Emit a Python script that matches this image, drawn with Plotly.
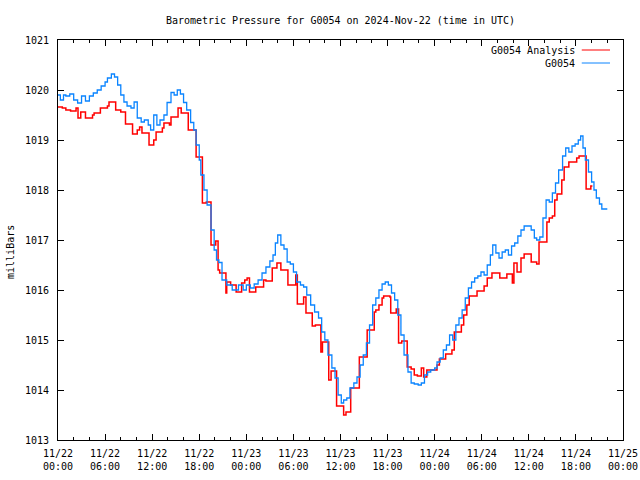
import pandas as pd
import plotly.graph_objects as go

# ---------------- data ----------------
START = "2024-11-22 00:00"

# G0054 observations: hours since 2024-11-22 00:00 UTC, pressure (mbar)
obs_hours = [
    0.0, 0.3, 0.7, 1.0, 1.5, 2.0, 2.5, 3.0, 3.5, 4.0, 4.5, 5.0, 5.5, 6.0, 6.3, 6.8,
    7.2, 7.6, 8.0, 8.4, 8.8, 9.3, 9.7, 10.1, 10.6, 11.0, 11.5, 11.8, 12.2, 12.6,
    13.0, 13.5, 13.9, 14.4, 14.8, 15.2, 15.6, 16.0, 16.4, 16.9, 17.3, 17.6, 18.0,
    18.2, 18.6, 19.0, 19.5, 19.9, 20.2, 20.5, 20.9, 21.5, 22.2, 23.0, 23.6, 24.0,
    24.5, 25.0, 25.5, 26.0, 26.5, 27.0, 27.4, 27.7, 28.0, 28.4, 28.8, 29.2, 29.6,
    30.0, 30.4, 30.9, 31.3, 31.7, 32.2, 32.7, 33.2, 33.6, 34.0, 34.4, 34.9, 35.3,
    35.7, 36.1, 36.4, 36.8, 37.2, 37.7, 38.1, 38.5, 38.9, 39.3, 39.7, 40.1, 40.5,
    40.9, 41.3, 41.7, 42.1, 42.5, 42.9, 43.3, 43.7, 44.1, 44.6, 45.0, 45.4, 45.9,
    46.3, 46.7, 47.1, 47.5, 48.0, 48.3, 48.7, 49.1, 49.5, 49.9, 50.3, 50.7, 51.1,
    51.5, 51.9, 52.3, 52.7, 53.1, 53.5, 53.9, 54.3, 54.7, 55.1, 55.4, 55.8, 56.2,
    56.6, 57.0, 57.4, 57.8, 58.2, 58.6, 59.0, 59.4, 59.9, 60.3, 60.7, 61.0, 61.4,
    61.8, 62.2, 62.6, 63.0, 63.4, 63.8, 64.3, 64.7, 65.1, 65.5, 65.9, 66.3, 66.6,
    66.9, 67.2, 67.6, 68.0, 68.3, 68.6, 69.0, 69.3, 70.0,
]
obs_pressure = [
    1019.90, 1019.80, 1019.90, 1019.88, 1019.92, 1019.80, 1019.74, 1019.88, 1019.78,
    1019.88, 1019.94, 1020.00, 1020.08, 1020.16, 1020.24, 1020.32, 1020.26, 1020.10,
    1019.90, 1019.76, 1019.68, 1019.64, 1019.76, 1019.44, 1019.36, 1019.40, 1019.30,
    1019.20, 1019.50, 1019.30, 1019.40, 1019.50, 1019.75, 1019.95, 1019.90, 1020.00,
    1019.92, 1019.75, 1019.60, 1019.35, 1019.20, 1018.90, 1018.60, 1018.30, 1018.00,
    1017.70, 1017.20, 1016.80, 1016.60, 1016.55, 1016.20, 1016.10, 1016.00, 1016.10,
    1016.00, 1016.10, 1016.04, 1016.12, 1016.20, 1016.34, 1016.46, 1016.58, 1016.70,
    1016.94, 1017.10, 1016.90, 1016.82, 1016.56, 1016.52, 1016.36, 1016.16, 1016.10,
    1016.06, 1015.90, 1015.70, 1015.56, 1015.44, 1015.16, 1015.00, 1014.70, 1014.44,
    1014.24, 1013.90, 1013.74, 1013.80, 1013.84, 1014.04, 1014.14, 1014.26, 1014.50,
    1014.70, 1014.94, 1015.30, 1015.70, 1015.84, 1016.00, 1016.12, 1016.16, 1016.10,
    1015.94, 1015.80, 1015.50, 1015.10, 1014.70, 1014.36, 1014.14, 1014.12, 1014.10,
    1014.14, 1014.30, 1014.36, 1014.40, 1014.44, 1014.56, 1014.64, 1014.80, 1014.90,
    1015.10, 1015.00, 1015.30, 1015.44, 1015.60, 1015.84, 1016.04, 1016.16, 1016.24,
    1016.28, 1016.36, 1016.30, 1016.50, 1016.70, 1016.90, 1016.74, 1016.64, 1016.76,
    1016.80, 1016.70, 1016.88, 1016.94, 1017.08, 1017.20, 1017.28, 1017.28, 1017.20,
    1017.04, 1017.00, 1017.06, 1017.44, 1017.80, 1017.76, 1017.94, 1018.14, 1018.40,
    1018.68, 1018.84, 1018.76, 1018.88, 1018.92, 1019.00, 1019.08, 1018.84, 1018.60,
    1018.36, 1018.16, 1018.00, 1017.84, 1017.72, 1017.62, 1017.62,
]

# G0054 Analysis: hours since start, pressure (mbar)
ana_hours = [
    0.0, 0.55, 1.0, 1.6, 2.3, 2.55, 2.9, 3.5, 4.4, 4.6, 5.4, 6.3, 6.5, 7.35, 8.0, 8.6,
    9.5, 10.1, 10.4, 10.7, 11.6, 12.2, 12.5, 13.3, 13.5, 14.2, 14.4, 15.3, 15.7, 16.6,
    17.6, 18.4, 18.9, 19.5, 20.1, 20.4, 20.6, 21.4, 21.5, 22.0, 22.7, 23.4, 23.8, 24.1,
    24.4, 25.2, 26.2, 26.5, 27.3, 27.9, 28.4, 29.3, 30.3, 30.5, 31.3, 31.6, 32.4, 32.8,
    33.5, 33.7, 34.5, 34.8, 35.5, 36.4, 36.7, 37.3, 38.4, 39.4, 40.3, 40.5, 40.9, 41.3,
    41.5, 42.3, 42.4, 43.1, 43.4, 43.8, 44.5, 45.0, 45.4, 45.8, 46.3, 46.6, 47.0, 48.3,
    48.6, 49.4, 50.2, 50.5, 51.4, 51.7, 52.1, 52.4, 53.4, 54.3, 54.7, 55.3, 56.3, 57.2,
    57.9, 58.1, 58.5, 59.0, 59.4, 60.3, 61.0, 61.3, 62.3, 62.6, 63.0, 63.3, 63.6, 64.2,
    64.5, 65.1, 66.1, 66.4, 67.3, 67.9, 68.1,
]
ana_pressure = [
    1019.66, 1019.64, 1019.60, 1019.58, 1019.64, 1019.44, 1019.56, 1019.44, 1019.50,
    1019.54, 1019.64, 1019.68, 1019.76, 1019.60, 1019.56, 1019.32, 1019.12, 1019.20,
    1019.26, 1019.14, 1018.90, 1019.00, 1019.16, 1019.24, 1019.34, 1019.30, 1019.46,
    1019.64, 1019.54, 1019.20, 1018.66, 1017.74, 1017.76, 1016.90, 1016.98, 1016.40,
    1016.34, 1015.94, 1016.16, 1016.10, 1015.96, 1016.14, 1016.20, 1016.24, 1015.96,
    1016.06, 1016.20, 1016.18, 1016.44, 1016.54, 1016.40, 1016.10, 1016.30, 1015.72,
    1015.86, 1015.54, 1015.28, 1015.30, 1014.76, 1014.96, 1014.20, 1014.38, 1013.68,
    1013.50, 1013.56, 1014.04, 1014.66, 1015.20, 1015.56, 1015.60, 1015.70, 1015.84,
    1015.88, 1015.86, 1015.54, 1015.62, 1014.94, 1014.98, 1014.46, 1014.42, 1014.30,
    1014.28, 1014.44, 1014.26, 1014.40, 1014.50, 1014.62, 1014.72, 1014.80, 1015.16,
    1015.30, 1015.50, 1015.70, 1015.88, 1015.98, 1016.08, 1016.24, 1016.34, 1016.24,
    1016.32, 1016.14, 1016.54, 1016.36, 1016.64, 1016.72, 1016.56, 1016.52, 1016.96,
    1017.36, 1017.44, 1017.48, 1017.80, 1017.92, 1018.20, 1018.46, 1018.56, 1018.64,
    1018.68, 1018.02, 1018.08, 1018.08,
]

# axis ticks
x_tick_hours = [0, 6, 12, 18, 24, 30, 36, 42, 48, 54, 60, 66, 72]
x_tick_labels = [
    "11/22<br>00:00", "11/22<br>06:00", "11/22<br>12:00", "11/22<br>18:00",
    "11/23<br>00:00", "11/23<br>06:00", "11/23<br>12:00", "11/23<br>18:00",
    "11/24<br>00:00", "11/24<br>06:00", "11/24<br>12:00", "11/24<br>18:00",
    "11/25<br>00:00",
]
y_ticks = [1013, 1014, 1015, 1016, 1017, 1018, 1019, 1020, 1021]

series_names = ["G0054 Analysis", "G0054"]
series_colors = ["#ff0000", "#0a84ff"]

# ---------------- figure ----------------
t0 = pd.Timestamp(START)
def to_time(hours):
    return t0 + pd.to_timedelta(hours, unit="h")

fig = go.Figure()
fig.add_trace(go.Scatter(
    x=to_time(ana_hours), y=ana_pressure, mode="lines", name=series_names[0],
    line=dict(color=series_colors[0], width=1.5, shape="hv"),
))
fig.add_trace(go.Scatter(
    x=to_time(obs_hours), y=obs_pressure, mode="lines", name=series_names[1],
    line=dict(color=series_colors[1], width=1.3, shape="hv"),
))

FONT = "DejaVu Sans Mono"

fig.update_layout(
    width=640, height=480,
    margin=dict(l=58, r=17, t=40, b=40, autoexpand=False),
    paper_bgcolor="white", plot_bgcolor="white",
    font=dict(family=FONT, size=10, color="black"),
    showlegend=False,
    title=dict(
        text="Barometric Pressure for G0054 on 2024-Nov-22 (time in UTC)",
        x=0.5, xref="paper", xanchor="center",
        y=1 - 20 / 480, yref="container", yanchor="middle",
        font=dict(family=FONT, size=10, color="black"),
    ),
    xaxis=dict(
        type="date", automargin=False,
        range=[to_time(0), to_time(72)],
        tickmode="array",
        tickvals=list(to_time(x_tick_hours)),
        ticktext=x_tick_labels,
        ticks="inside", ticklen=6, tickwidth=1, tickcolor="black",
        minor=dict(ticks="inside", ticklen=3, tickcolor="black",
                   dtick=2 * 3600 * 1000, tick0=to_time(0)),
        showline=True, linecolor="black", linewidth=1, mirror="allticks",
        showgrid=False, zeroline=False,
        ticklabelstandoff=4,
    ),
    yaxis=dict(
        automargin=False,
        range=[1013, 1021],
        tickmode="array", tickvals=y_ticks, ticktext=[str(v) for v in y_ticks],
        ticks="inside", ticklen=6, tickwidth=1, tickcolor="black",
        showline=True, linecolor="black", linewidth=1, mirror="allticks",
        showgrid=False, zeroline=False,
        ticklabelstandoff=6,
    ),
)

# y-axis label (gnuplot style)
fig.add_annotation(
    text="milliBars", xref="paper", yref="paper",
    x=-0.085, y=0.47, xanchor="center", yanchor="middle",
    textangle=-90, showarrow=False, font=dict(family=FONT, size=10),
)

# gnuplot-style key: text right-aligned, sample line to the right
key_rows_y = [1 - 10 / 400, 1 - 23 / 400]
for name, color, ky in zip(series_names, series_colors, key_rows_y):
    fig.add_annotation(
        text=name, xref="paper", yref="paper", x=0.918, y=ky,
        xanchor="right", yanchor="middle", showarrow=False,
        font=dict(family=FONT, size=10),
    )
    fig.add_shape(
        type="line", xref="paper", yref="paper",
        x0=0.927, x1=0.977, y0=ky, y1=ky,
        line=dict(color=color, width=1),
    )

# remove the browser's default 8px page margin so the 640x480 figure fills the window
fig.write_html(
    "out.html",
    config={"displayModeBar": False},
    post_script="document.body.style.margin='0';document.body.style.overflow='hidden';",
)
